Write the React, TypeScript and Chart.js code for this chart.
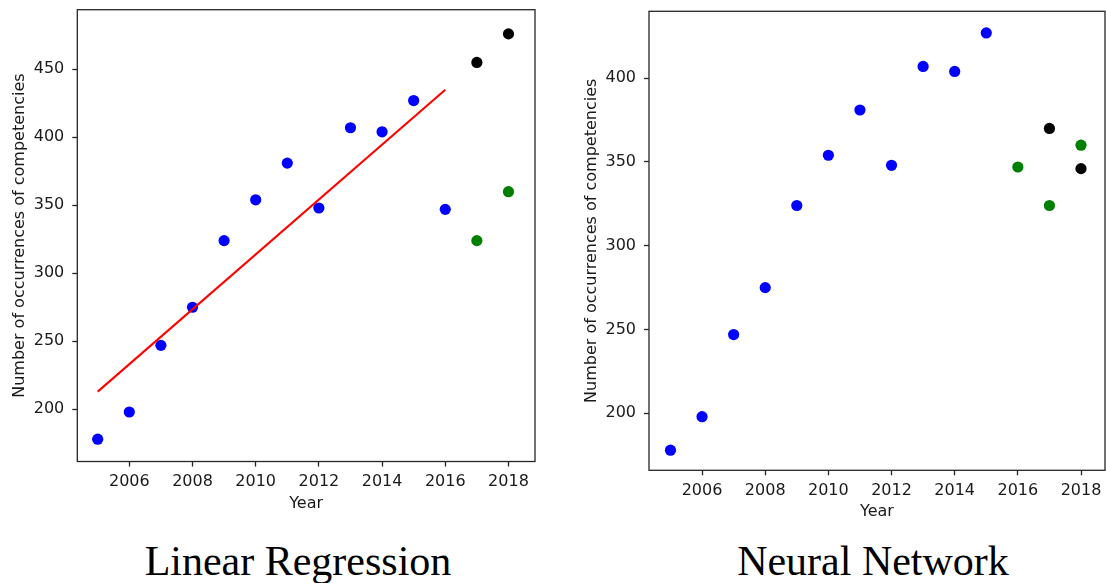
import React, { useEffect, useRef } from "react";
import { Chart, registerables } from "chart.js";

Chart.register(...registerables);

// ---------- data ----------
const xTickYears = [2006, 2008, 2010, 2012, 2014, 2016, 2018];
const lrYTicks = [200, 250, 300, 350, 400, 450];
const nnYTicks = [200, 250, 300, 350, 400];

const lrTrainYears = [2005, 2006, 2007, 2008, 2009, 2010, 2011, 2012, 2013, 2014, 2015, 2016];
const lrTrainCounts = [178, 198, 247, 275, 324, 354, 381, 348, 407, 404, 427, 347];
const lrTestYears = [2017, 2018];
const lrTestActual = [324, 360];
const lrPredicted = [455, 476];
const lrFitYears = [2005, 2016];
const lrFitValues = [213, 435];

const nnTrainYears = [2005, 2006, 2007, 2008, 2009, 2010, 2011, 2012, 2013, 2014, 2015];
const nnTrainCounts = [178, 198, 247, 275, 324, 354, 381, 348, 407, 404, 427];
const nnTestYears = [2016, 2017, 2018];
const nnTestActual = [347, 324, 360];
const nnPredYears = [2017, 2018];
const nnPredicted = [370, 346];

const captions = ["Linear Regression", "Neural Network"];
const xTitle = "Year";
const yTitle = "Number of occurrences of competencies";

// ---------- styles ----------
const TEXT = "#1a1a1a";
const AXIS = "#262626";
const FONT = { family: "DejaVu Sans", size: 16 };

const pts = (xs: number[], ys: number[]) => xs.map((x, i) => ({ x, y: ys[i] }));

const dot = (data: { x: number; y: number }[], color: string) => ({
  data,
  showLine: false,
  pointRadius: 5.6,
  pointHoverRadius: 5.6,
  pointBorderWidth: 0,
  pointBackgroundColor: color,
  pointBorderColor: color,
  backgroundColor: color,
  borderColor: color,
});

const framePlugin = {
  id: "frame",
  afterDatasetsDraw(chart: any) {
    const { ctx, chartArea: a } = chart;
    ctx.save();
    ctx.strokeStyle = AXIS;
    ctx.lineWidth = 1.3;
    ctx.strokeRect(a.left, a.top, a.right - a.left, a.bottom - a.top);
    ctx.restore();
  },
};

interface Spec {
  datasets: any[];
  xMin: number;
  xMax: number;
  yMin: number;
  yMax: number;
  yTicks: number[];
  padTop: number;
  padRight: number;
  yWidth: number;
  xHeight: number;
  yTitlePad: number;
  xTitlePad: number;
}

function makeConfig(s: Spec): any {
  const grid = {
    display: true,
    drawOnChartArea: false,
    drawTicks: true,
    tickLength: 5,
    tickColor: AXIS,
    tickWidth: 1.3,
  };
  return {
    type: "scatter",
    data: { datasets: s.datasets },
    plugins: [framePlugin],
    options: {
      animation: false,
      responsive: false,
      events: [],
      layout: { padding: { top: s.padTop, right: s.padRight, bottom: 0, left: 0 } },
      plugins: { legend: { display: false }, tooltip: { enabled: false } },
      scales: {
        x: {
          type: "linear",
          min: s.xMin,
          max: s.xMax,
          afterBuildTicks: (sc: any) => {
            sc.ticks = xTickYears.map((v) => ({ value: v }));
          },
          afterFit: (sc: any) => {
            sc.height = s.xHeight;
            sc.paddingLeft = 0;
            sc.paddingRight = 0;
            sc.paddingTop = 0;
            sc.paddingBottom = 0;
          },
          ticks: {
            callback: (v: any) => String(v),
            font: FONT,
            color: TEXT,
            padding: 5.5,
            maxRotation: 0,
            autoSkip: false,
          },
          grid,
          border: { display: false },
          title: {
            display: true,
            text: xTitle,
            font: FONT,
            color: TEXT,
            padding: { top: 0, bottom: s.xTitlePad },
          },
        },
        y: {
          type: "linear",
          min: s.yMin,
          max: s.yMax,
          afterBuildTicks: (sc: any) => {
            sc.ticks = s.yTicks.map((v) => ({ value: v }));
          },
          afterFit: (sc: any) => {
            sc.width = s.yWidth;
            sc.paddingLeft = 0;
            sc.paddingRight = 0;
            sc.paddingTop = 0;
            sc.paddingBottom = 0;
          },
          ticks: {
            callback: (v: any) => String(v),
            font: FONT,
            color: TEXT,
            padding: 8,
            autoSkip: false,
          },
          grid,
          border: { display: false },
          title: {
            display: true,
            text: yTitle,
            font: FONT,
            color: TEXT,
            padding: { top: s.yTitlePad, bottom: 0 },
          },
        },
      },
    },
  };
}

const CANVAS_H = 535;

function ChartCanvas({ spec, left, width }: { spec: Spec; left: number; width: number }) {
  const ref = useRef<HTMLCanvasElement | null>(null);
  useEffect(() => {
    if (!ref.current) return;
    const chart = new Chart(ref.current, makeConfig(spec));
    return () => chart.destroy();
  }, []);
  return (
    <canvas
      ref={ref}
      width={width}
      height={CANVAS_H}
      style={{ position: "absolute", left, top: 0, width, height: CANVAS_H }}
    />
  );
}

const lrSpec: Spec = {
  datasets: [
    {
      data: pts(lrFitYears, lrFitValues),
      showLine: true,
      borderColor: "#ff0000",
      borderWidth: 2.1,
      pointRadius: 0,
      pointHoverRadius: 0,
    },
    dot(pts(lrTrainYears, lrTrainCounts), "#0000ff"),
    dot(pts(lrTestYears, lrPredicted), "#000000"),
    dot(pts(lrTestYears, lrTestActual), "#008000"),
  ],
  xMin: 2004.354,
  xMax: 2018.84,
  yMin: 161.6,
  yMax: 493.8,
  yTicks: lrYTicks,
  padTop: 9.7,
  padRight: 25,
  yWidth: 77.3,
  xHeight: CANVAS_H - 461.5,
  yTitlePad: 10.6,
  xTitlePad: 21.9,
};

const nnSpec: Spec = {
  datasets: [
    dot(pts(nnTrainYears, nnTrainCounts), "#0000ff"),
    dot(pts(nnTestYears, nnTestActual), "#008000"),
    dot(pts(nnPredYears, nnPredicted), "#000000"),
  ],
  xMin: 2004.32,
  xMax: 2018.76,
  yMin: 166.0,
  yMax: 439.9,
  yTicks: nnYTicks,
  padTop: 11.3,
  padRight: 25,
  yWidth: 89,
  xHeight: CANVAS_H - 470.3,
  yTitlePad: 22.3,
  xTitlePad: 13.1,
};

const captionStyle = (center: number): React.CSSProperties => ({
  position: "absolute",
  left: center - 250,
  width: 500,
  top: 540,
  textAlign: "center",
  fontFamily: '"Liberation Serif", "Times New Roman", serif',
  fontSize: 42,
  lineHeight: "42px",
  color: "#000",
  whiteSpace: "nowrap",
});

export default function App() {
  return (
    <div
      style={{
        position: "absolute",
        left: 0,
        top: 0,
        width: 1106,
        height: 583,
        overflow: "hidden",
        background: "#fff",
      }}
    >
      <ChartCanvas spec={lrSpec} left={0} width={560} />
      <ChartCanvas spec={nnSpec} left={560} width={570} />
      <div style={captionStyle(298)}>{captions[0]}</div>
      <div style={captionStyle(873)}>{captions[1]}</div>
    </div>
  );
}
